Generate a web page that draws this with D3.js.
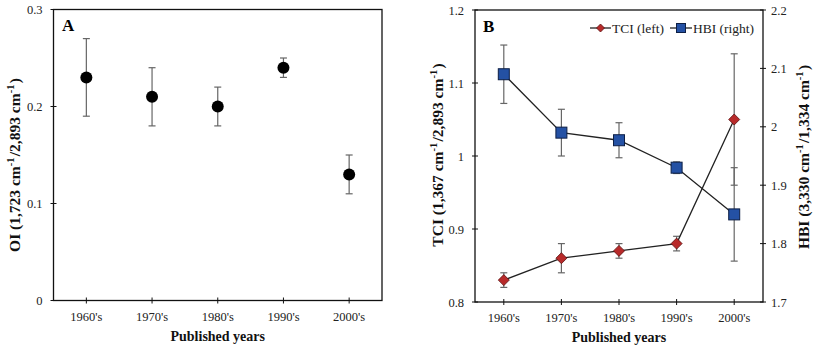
<!DOCTYPE html>
<html>
<head>
<meta charset="utf-8">
<script src="https://cdn.jsdelivr.net/npm/d3@7"></script>
<style>
  html, body { margin: 0; padding: 0; background: #fff; }
  svg { display: block; font-family: "Liberation Serif", "Times New Roman", serif; }
</style>
</head>
<body>
<svg id="chart" width="816" height="347"></svg>
<script>
// ---- data ----
const categories = ["1960's", "1970's", "1980's", "1990's", "2000's"];
const oiValues = [0.23, 0.21, 0.20, 0.24, 0.13];
const oiErrors = [0.04, 0.03, 0.02, 0.01, 0.02];
const tciValues = [0.83, 0.86, 0.87, 0.88, 1.05];
const tciErrors = [0.01, 0.02, 0.01, 0.01, 0.09];
const hbiValues = [2.09, 1.99, 1.977, 1.93, 1.85];
const hbiErrors = [0.05, 0.04, 0.03, 0.01, 0.08];
const oiTicks = [0, 0.1, 0.2, 0.3];
const oiTickLabels = ["0", "0.1", "0.2", "0.3"];
const tciTicks = [0.8, 0.9, 1.0, 1.1, 1.2];
const tciTickLabels = ["0.8", "0.9", "1", "1.1", "1.2"];
const hbiTicks = [1.7, 1.8, 1.9, 2.0, 2.1, 2.2];
const hbiTickLabels = ["1.7", "1.8", "1.9", "2", "2.1", "2.2"];

const svg = d3.select("#chart");
const tickFont = 12.5, titleFont = 14, yTitleFont = 15.5;
const errColor = "#666", lineColor = "#222";

function titleWithSup(g, parts) {
  parts.forEach(([t, sup]) => {
    if (sup) {
      g.append("tspan").attr("dy", -6).attr("font-size", 10.5).text(t);
      g.append("tspan").attr("dy", 6).text("\u200A");
    } else {
      g.append("tspan").text(t);
    }
  });
}

function panelFrame(x, box) {
  const g = svg.append("g");
  g.append("rect").attr("x", box.l).attr("y", box.t)
    .attr("width", box.r - box.l).attr("height", box.b - box.t)
    .attr("fill", "none").attr("stroke", "#111").attr("stroke-width", 1.3);
  categories.forEach(c => {
    const cx = x(c) + x.bandwidth() / 2;
    g.append("line").attr("x1", cx).attr("x2", cx).attr("y1", box.b - 3).attr("y2", box.b + 3)
      .attr("stroke", "#111").attr("stroke-width", 1);
    g.append("text").attr("x", cx).attr("y", box.b + 20).attr("text-anchor", "middle")
      .attr("font-size", tickFont).attr("fill", "#222").text(c);
  });
  g.append("text").attr("x", (box.l + box.r) / 2).attr("y", box.b + 40)
    .attr("text-anchor", "middle").attr("font-size", titleFont).attr("font-weight", "bold")
    .attr("fill", "#111").text("Published years");
  return g;
}

function leftAxis(g, y, ticks, labels, box) {
  ticks.forEach((t, i) => {
    const ty = y(t);
    g.append("line").attr("x1", box.l - 3).attr("x2", box.l + 3).attr("y1", ty).attr("y2", ty)
      .attr("stroke", "#111").attr("stroke-width", 1);
    g.append("text").attr("x", box.l - 11).attr("y", ty + 4.5).attr("text-anchor", "end")
      .attr("font-size", tickFont).attr("fill", "#222").text(labels[i]);
  });
}
function rightAxis(g, y, ticks, labels, box) {
  ticks.forEach((t, i) => {
    const ty = y(t);
    g.append("line").attr("x1", box.r - 3).attr("x2", box.r + 3).attr("y1", ty).attr("y2", ty)
      .attr("stroke", "#111").attr("stroke-width", 1);
    g.append("text").attr("x", box.r + 8).attr("y", ty + 4.5).attr("text-anchor", "start")
      .attr("font-size", tickFont).attr("fill", "#222").text(labels[i]);
  });
}

function errorBars(g, x, y, vals, errs) {
  vals.forEach((v, i) => {
    const cx = x(categories[i]) + x.bandwidth() / 2;
    const y1 = y(v - errs[i]), y2 = y(v + errs[i]);
    g.append("line").attr("x1", cx).attr("x2", cx).attr("y1", y1).attr("y2", y2)
      .attr("stroke", errColor).attr("stroke-width", 1.2);
    [y1, y2].forEach(yy => g.append("line").attr("x1", cx - 3.5).attr("x2", cx + 3.5)
      .attr("y1", yy).attr("y2", yy).attr("stroke", errColor).attr("stroke-width", 1.2));
  });
}

// ---- Panel A ----
const boxA = { l: 53.5, r: 382, t: 9.5, b: 300.5 };
const xA = d3.scaleBand().domain(categories).range([boxA.l, boxA.r]).padding(0);
const yA = d3.scaleLinear().domain([0, 0.3]).range([boxA.b, boxA.t]);
const gA = panelFrame(xA, boxA);
leftAxis(gA, yA, oiTicks, oiTickLabels, boxA);
errorBars(gA, xA, yA, oiValues, oiErrors);
gA.selectAll("circle.oi").data(oiValues).enter().append("circle")
  .attr("cx", (d, i) => xA(categories[i]) + xA.bandwidth() / 2)
  .attr("cy", d => yA(d)).attr("r", 6).attr("fill", "#000");
gA.append("text").attr("x", 62).attr("y", 31).attr("font-size", 17).attr("font-weight", "bold").text("A");
const tA = gA.append("text").attr("transform", `translate(20,165) rotate(-90)`)
  .attr("text-anchor", "middle").attr("font-size", yTitleFont).attr("font-weight", "bold").attr("fill", "#111");
titleWithSup(tA, [["OI (1,723 cm", false], ["-1", true], ["/2,893 cm", false], ["-1", true], [")", false]]);

// ---- Panel B ----
const boxB = { l: 475, r: 763, t: 10, b: 302 };
const xB = d3.scaleBand().domain(categories).range([boxB.l, boxB.r]).padding(0);
const yBL = d3.scaleLinear().domain([0.8, 1.2]).range([boxB.b, boxB.t]);
const yBR = d3.scaleLinear().domain([1.7, 2.2]).range([boxB.b, boxB.t]);
const gB = panelFrame(xB, boxB);
leftAxis(gB, yBL, tciTicks, tciTickLabels, boxB);
rightAxis(gB, yBR, hbiTicks, hbiTickLabels, boxB);

const cxB = (d, i) => xB(categories[i]) + xB.bandwidth() / 2;
const lineL = d3.line().x(cxB).y(d => yBL(d));
const lineR = d3.line().x(cxB).y(d => yBR(d));

errorBars(gB, xB, yBL, tciValues, tciErrors);
errorBars(gB, xB, yBR, hbiValues, hbiErrors);
gB.append("path").datum(tciValues).attr("d", lineL).attr("fill", "none").attr("stroke", lineColor).attr("stroke-width", 1.3);
gB.append("path").datum(hbiValues).attr("d", lineR).attr("fill", "none").attr("stroke", lineColor).attr("stroke-width", 1.3);

const diamondColor = "#B82A2A", squareColor = "#2451A4";
function diamond(g, cx, cy, s) {
  g.append("path").attr("d", `M${cx},${cy - s}L${cx + s},${cy}L${cx},${cy + s}L${cx - s},${cy}Z`)
    .attr("fill", diamondColor).attr("stroke", "#5a1010").attr("stroke-width", 0.8);
}
function square(g, cx, cy, s) {
  g.append("rect").attr("x", cx - s).attr("y", cy - s).attr("width", 2 * s).attr("height", 2 * s)
    .attr("fill", squareColor).attr("stroke", "#0d1f45").attr("stroke-width", 1);
}
tciValues.forEach((v, i) => diamond(gB, cxB(v, i), yBL(v), 5.5));
hbiValues.forEach((v, i) => square(gB, cxB(v, i), yBR(v), 5.5));

gB.append("text").attr("x", 483).attr("y", 32).attr("font-size", 17).attr("font-weight", "bold").text("B");

// legend
const lg = gB.append("g");
lg.append("line").attr("x1", 590).attr("x2", 611).attr("y1", 28).attr("y2", 28).attr("stroke", lineColor).attr("stroke-width", 1.3);
diamond(lg, 600.5, 28, 4);
lg.append("text").attr("x", 612).attr("y", 32.5).attr("font-size", 13.5).attr("fill", "#222").text("TCI (left)");
lg.append("line").attr("x1", 670).attr("x2", 692).attr("y1", 28).attr("y2", 28).attr("stroke", lineColor).attr("stroke-width", 1.3);
square(lg, 681, 28, 4.5);
lg.append("text").attr("x", 693).attr("y", 32.5).attr("font-size", 13.5).attr("fill", "#222").text("HBI (right)");

const tB = gB.append("text").attr("transform", `translate(443,155) rotate(-90)`)
  .attr("text-anchor", "middle").attr("font-size", yTitleFont).attr("font-weight", "bold").attr("fill", "#111");
titleWithSup(tB, [["TCI (1,367 cm", false], ["-1", true], ["/2,893 cm", false], ["-1", true], [")", false]]);
const tR = gB.append("text").attr("transform", `translate(809,157) rotate(-90)`)
  .attr("text-anchor", "middle").attr("font-size", yTitleFont).attr("font-weight", "bold").attr("fill", "#111");
titleWithSup(tR, [["HBI (3,330 cm", false], ["-1", true], ["/1,334 cm", false], ["-1", true], [")", false]]);
</script>
</body>
</html>
